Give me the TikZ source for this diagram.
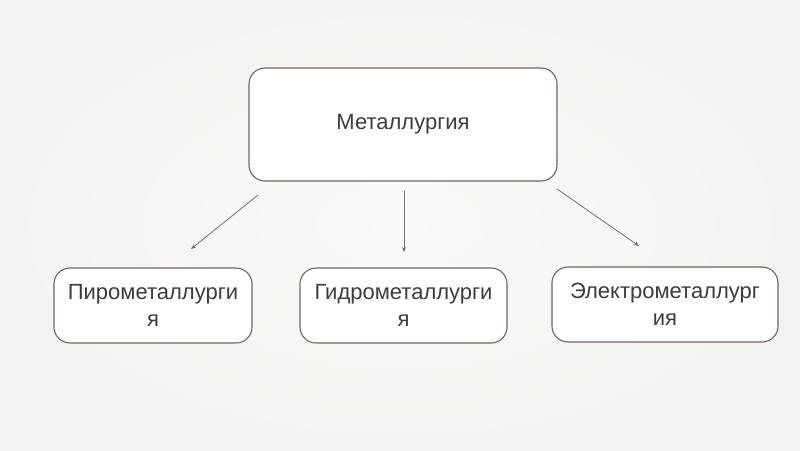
\documentclass[tikz,border=0pt]{standalone}
\usepackage{fontspec}
\setmainfont{Liberation Sans}
\usetikzlibrary{arrows.meta}
\definecolor{bgout}{HTML}{F3F3F2}
\definecolor{bgin}{HTML}{FAFAFA}
\definecolor{boxline}{HTML}{6E6465}
\definecolor{txt}{HTML}{3C3C3C}
\definecolor{arr}{HTML}{707070}
\begin{document}
\begin{tikzpicture}[x=1pt,y=-1pt,
  box/.style={draw=boxline, line width=1.1pt, fill=white, rounded corners=16pt, inner sep=0pt,
    font=\fontsize{22}{27}\selectfont, text=txt, align=center},
  link/.style={draw=arr, line width=0.8pt, -{Stealth[length=5pt,width=4pt]}}]
\useasboundingbox (0,0) rectangle (800,450);
\shade[inner color=bgin, outer color=bgout] (0,0) rectangle (800,450);
\node[box, minimum width=308pt, minimum height=113pt] (main) at (403,124.5) {Металлургия};
\node[box, minimum width=198pt, minimum height=75pt] (pyro) at (153,305.5) {Пирометаллурги\\я};
\node[box, minimum width=207pt, minimum height=75pt] (hydro) at (403.5,305.5) {Гидрометаллурги\\я};
\node[box, minimum width=226pt, minimum height=75pt] (electro) at (665,304.5) {Электрометаллург\\ия};
\coordinate (a1) at (258,195);
\coordinate (b1) at (191,249);
\coordinate (a2) at (404,191);
\coordinate (b2) at (404,252);
\coordinate (a3) at (557,189);
\coordinate (b3) at (639,246);
\draw[link] (a1) -- (b1);
\draw[link] (a2) -- (b2);
\draw[link] (a3) -- (b3);
\end{tikzpicture}
\end{document}
